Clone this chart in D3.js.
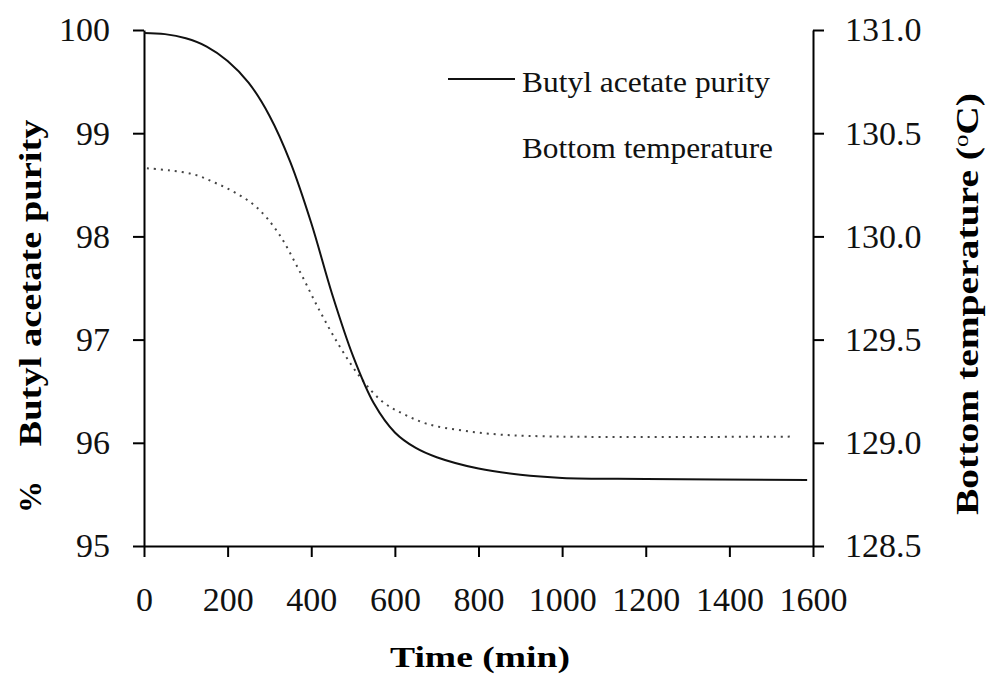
<!DOCTYPE html>
<html>
<head>
<meta charset="utf-8">
<script src="https://cdn.jsdelivr.net/npm/d3@7"></script>
<style>
  html, body { margin: 0; padding: 0; background: #fff; }
  svg, svg text { font-family: "Liberation Serif", "Times New Roman", serif; }
</style>
</head>
<body>
<div id="chart"></div>
<script>
// Butyl acetate purity and bottom temperature vs time

// Time (min) for the purity curve
const purityTime = [0, 50, 100, 150, 200, 250, 300, 350, 400, 450, 500, 550, 600, 650, 700, 800, 900, 1000, 1200, 1586];
// % Butyl acetate purity (left axis)
const purityValue = [99.97, 99.96, 99.92, 99.84, 99.70, 99.49, 99.17, 98.72, 98.13, 97.44, 96.84, 96.38, 96.10, 95.95, 95.86, 95.75, 95.69, 95.66, 95.65, 95.64];

// Time (min) for the temperature curve
const tempTime = [7, 60, 120, 170, 220, 270, 320, 370, 420, 470, 520, 570, 620, 680, 760, 850, 1000, 1550];
// Bottom temperature, degC (right axis)
const tempValue = [130.33, 130.32, 130.30, 130.26, 130.21, 130.14, 130.02, 129.84, 129.64, 129.46, 129.31, 129.20, 129.14, 129.09, 129.06, 129.04, 129.03, 129.03];

// tick labels
const xTicks = [0, 200, 400, 600, 800, 1000, 1200, 1400, 1600];
const leftTicks = [95, 96, 97, 98, 99, 100];
const rightTicks = [128.5, 129.0, 129.5, 130.0, 130.5, 131.0];

const legendLabels = ["Butyl acetate purity", "Bottom temperature"];

const W = 989, H = 681;
const p_l = 144, p_r = 813, p_t = 30, p_b = 546; // plot box edges
const serif = "'Liberation Serif', 'Times New Roman', serif";

const svg = d3.select("#chart").append("svg")
  .attr("width", W)
  .attr("height", H);

const xScale = d3.scaleLinear().domain([0, 1600]).range([p_l, p_r]);
const yLeft = d3.scaleLinear().domain([95, 100]).range([p_b, p_t]);
const yRight = d3.scaleLinear().domain([128.5, 131]).range([p_b, p_t]);

// axes
function styleAxis(g) {
  g.attr("font-family", null).attr("font-size", null);
  g.select(".domain").attr("stroke", "#000").attr("stroke-width", 2);
  g.selectAll(".tick line").attr("stroke", "#000").attr("stroke-width", 2);
  g.selectAll(".tick text").attr("fill", "#111")
    .style("font-family", serif).style("font-size", "34px");
}

svg.append("g")
  .attr("transform", `translate(0 ${p_b})`)
  .call(d3.axisBottom(xScale).tickValues(xTicks).tickSize(11).tickSizeOuter(0).tickPadding(30).tickFormat(d3.format("d")))
  .call(styleAxis);

svg.append("g")
  .attr("transform", `translate(${p_l} 0)`)
  .call(d3.axisLeft(yLeft).tickValues(leftTicks).tickSize(11).tickSizeOuter(0).tickPadding(23).tickFormat(d3.format("d")))
  .call(styleAxis);

svg.append("g")
  .attr("transform", `translate(${p_r} 0)`)
  .call(d3.axisRight(yRight).tickValues(rightTicks).tickSize(11).tickSizeOuter(0).tickPadding(21).tickFormat(d3.format(".1f")))
  .call(styleAxis);

// lines
const purityLine = d3.line()
  .x((d, i) => xScale(purityTime[i]))
  .y(d => yLeft(d))
  .curve(d3.curveCatmullRom.alpha(0.5));

const tempLine = d3.line()
  .x((d, i) => xScale(tempTime[i]))
  .y(d => yRight(d))
  .curve(d3.curveCatmullRom.alpha(0.5));

svg.append("path")
  .datum(tempValue)
  .attr("d", tempLine)
  .attr("fill", "none")
  .attr("stroke", "#444")
  .attr("stroke-width", 2)
  .attr("stroke-dasharray", "2,5");

svg.append("path")
  .datum(purityValue)
  .attr("d", purityLine)
  .attr("fill", "none")
  .attr("stroke", "#111")
  .attr("stroke-width", 2);

// legend
svg.append("line")
  .attr("x1", 448).attr("x2", 515)
  .attr("y1", 79).attr("y2", 79)
  .attr("stroke", "#111").attr("stroke-width", 2);

svg.selectAll(".legend")
  .data(legendLabels)
  .enter().append("text")
  .attr("class", "legend")
  .attr("x", 522)
  .attr("y", (d, i) => 92 + i * 66)
  .style("font-family", serif)
  .attr("font-size", 30)
  .attr("textLength", (d, i) => i === 0 ? 248 : 251)
  .attr("lengthAdjust", "spacingAndGlyphs")
  .attr("fill", "#111")
  .text(d => d);

// axis titles
svg.append("text")
  .attr("x", 480).attr("y", 667)
  .attr("text-anchor", "middle")
  .style("font-family", serif)
  .attr("font-size", 30).attr("font-weight", "bold")
  .attr("textLength", 180).attr("lengthAdjust", "spacingAndGlyphs")
  .text("Time (min)");

svg.append("text")
  .attr("transform", "translate(41 497) rotate(-90)")
  .attr("text-anchor", "middle")
  .style("font-family", serif)
  .attr("font-size", 32).attr("font-weight", "bold")
  .text("%");

svg.append("text")
  .attr("transform", "translate(41 283) rotate(-90)")
  .attr("text-anchor", "middle")
  .style("font-family", serif)
  .attr("font-size", 32).attr("font-weight", "bold")
  .attr("textLength", 327).attr("lengthAdjust", "spacingAndGlyphs")
  .text("Butyl acetate purity");

const rTitle = svg.append("text")
  .attr("transform", "translate(978 304) rotate(-90)")
  .attr("text-anchor", "middle")
  .style("font-family", serif)
  .attr("font-size", 32).attr("font-weight", "bold")
  .attr("textLength", 422).attr("lengthAdjust", "spacingAndGlyphs");
rTitle.append("tspan").text("Bottom temperature (");
rTitle.append("tspan").attr("font-size", 20).attr("font-weight", "normal").attr("dy", -10).text("o");
rTitle.append("tspan").attr("dy", 10).text("C)");
</script>
</body>
</html>
